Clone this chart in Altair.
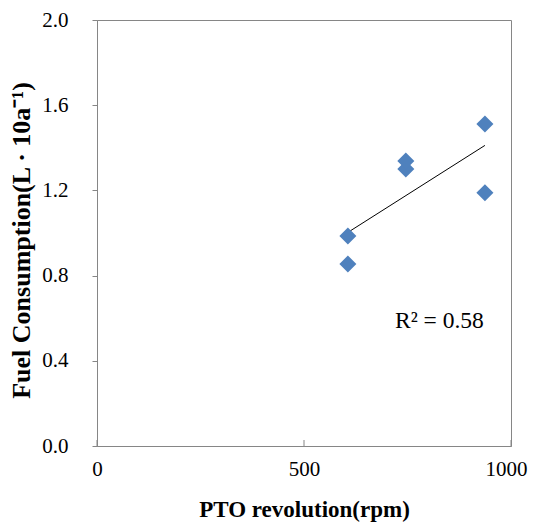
import altair as alt
import pandas as pd

rpm = [606, 606, 746, 746, 937, 937]
fuel = [0.854, 0.986, 1.300, 1.338, 1.189, 1.512]
x_ticks = [0, 500, 1000]
y_ticks = [0.0, 0.4, 0.8, 1.2, 1.6, 2.0]
r2_label = ["R² = 0.58"]

df = pd.DataFrame({"rpm": rpm, "fuel": fuel})
ticks_df = pd.DataFrame({"rpm": x_ticks})
txt_df = pd.DataFrame({"t": r2_label})

W, H = 414, 426
FONT = "Liberation Serif"
GRAY = "#868686"

xscale = alt.Scale(domain=[0, 1000], nice=False, zero=False)
yscale = alt.Scale(domain=[0, 2], nice=False)

xaxis = alt.Axis(values=x_ticks, format="d", title="PTO revolution(rpm)", grid=False, ticks=False,
                 labelPadding=12, labelFontSize=21, labelFont=FONT, labelColor="black",
                 labelOverlap=False, labelFlush=False,
                 labelAlign={"expr": "datum.value == 1000 ? 'right' : 'center'"},
                 labelOffset={"expr": "datum.value == 1000 ? 16 : 0"},
                 titleFont=FONT, titleFontSize=23, titleFontWeight="bold", titleColor="black",
                 titleBaseline="alphabetic", titleY=70, domainColor=GRAY)
yaxis = alt.Axis(values=y_ticks, format=".1f", title="Fuel Consumption(L · 10a⁻¹)", grid=False,
                 tickSize=5, tickColor=GRAY, labelPadding=24, labelFontSize=21, labelFont=FONT,
                 labelColor="black", labelOverlap=False, labelFlush=False,
                 titleFont=FONT, titleFontSize=26, titleFontWeight="bold", titleColor="black",
                 titleBaseline="alphabetic", titleX=-68, titleY=220, domainColor=GRAY)

points = alt.Chart(df).mark_point(shape="diamond", filled=True, size=290, color="#4F81BD", opacity=1).encode(
    x=alt.X("rpm:Q", scale=xscale, axis=xaxis),
    y=alt.Y("fuel:Q", scale=yscale, axis=yaxis),
)

trend = alt.Chart(df).transform_regression("rpm", "fuel").mark_line(color="black", strokeWidth=1).encode(
    x=alt.X("rpm:Q", scale=xscale),
    y=alt.Y("fuel:Q", scale=yscale),
)

xt = alt.Chart(ticks_df).mark_rule(color=GRAY, strokeWidth=1).encode(
    x=alt.X("rpm:Q", scale=xscale),
    y=alt.value(H),
    y2=alt.value(H - 6),
)

label = alt.Chart(txt_df).mark_text(align="left", baseline="alphabetic", font=FONT, fontSize=23.5,
                                    color="black").encode(
    x=alt.value(298), y=alt.value(308), text="t:N"
)

chart = alt.layer(xt, trend, points, label).properties(
    width=W, height=H,
    autosize=alt.AutoSizeParams(type="none"),
    padding={"left": 89, "top": 12, "right": 17, "bottom": 77},
).configure_view(stroke=GRAY, strokeWidth=1)

chart.save("out.html", embed_options={"renderer": "svg", "actions": False})
